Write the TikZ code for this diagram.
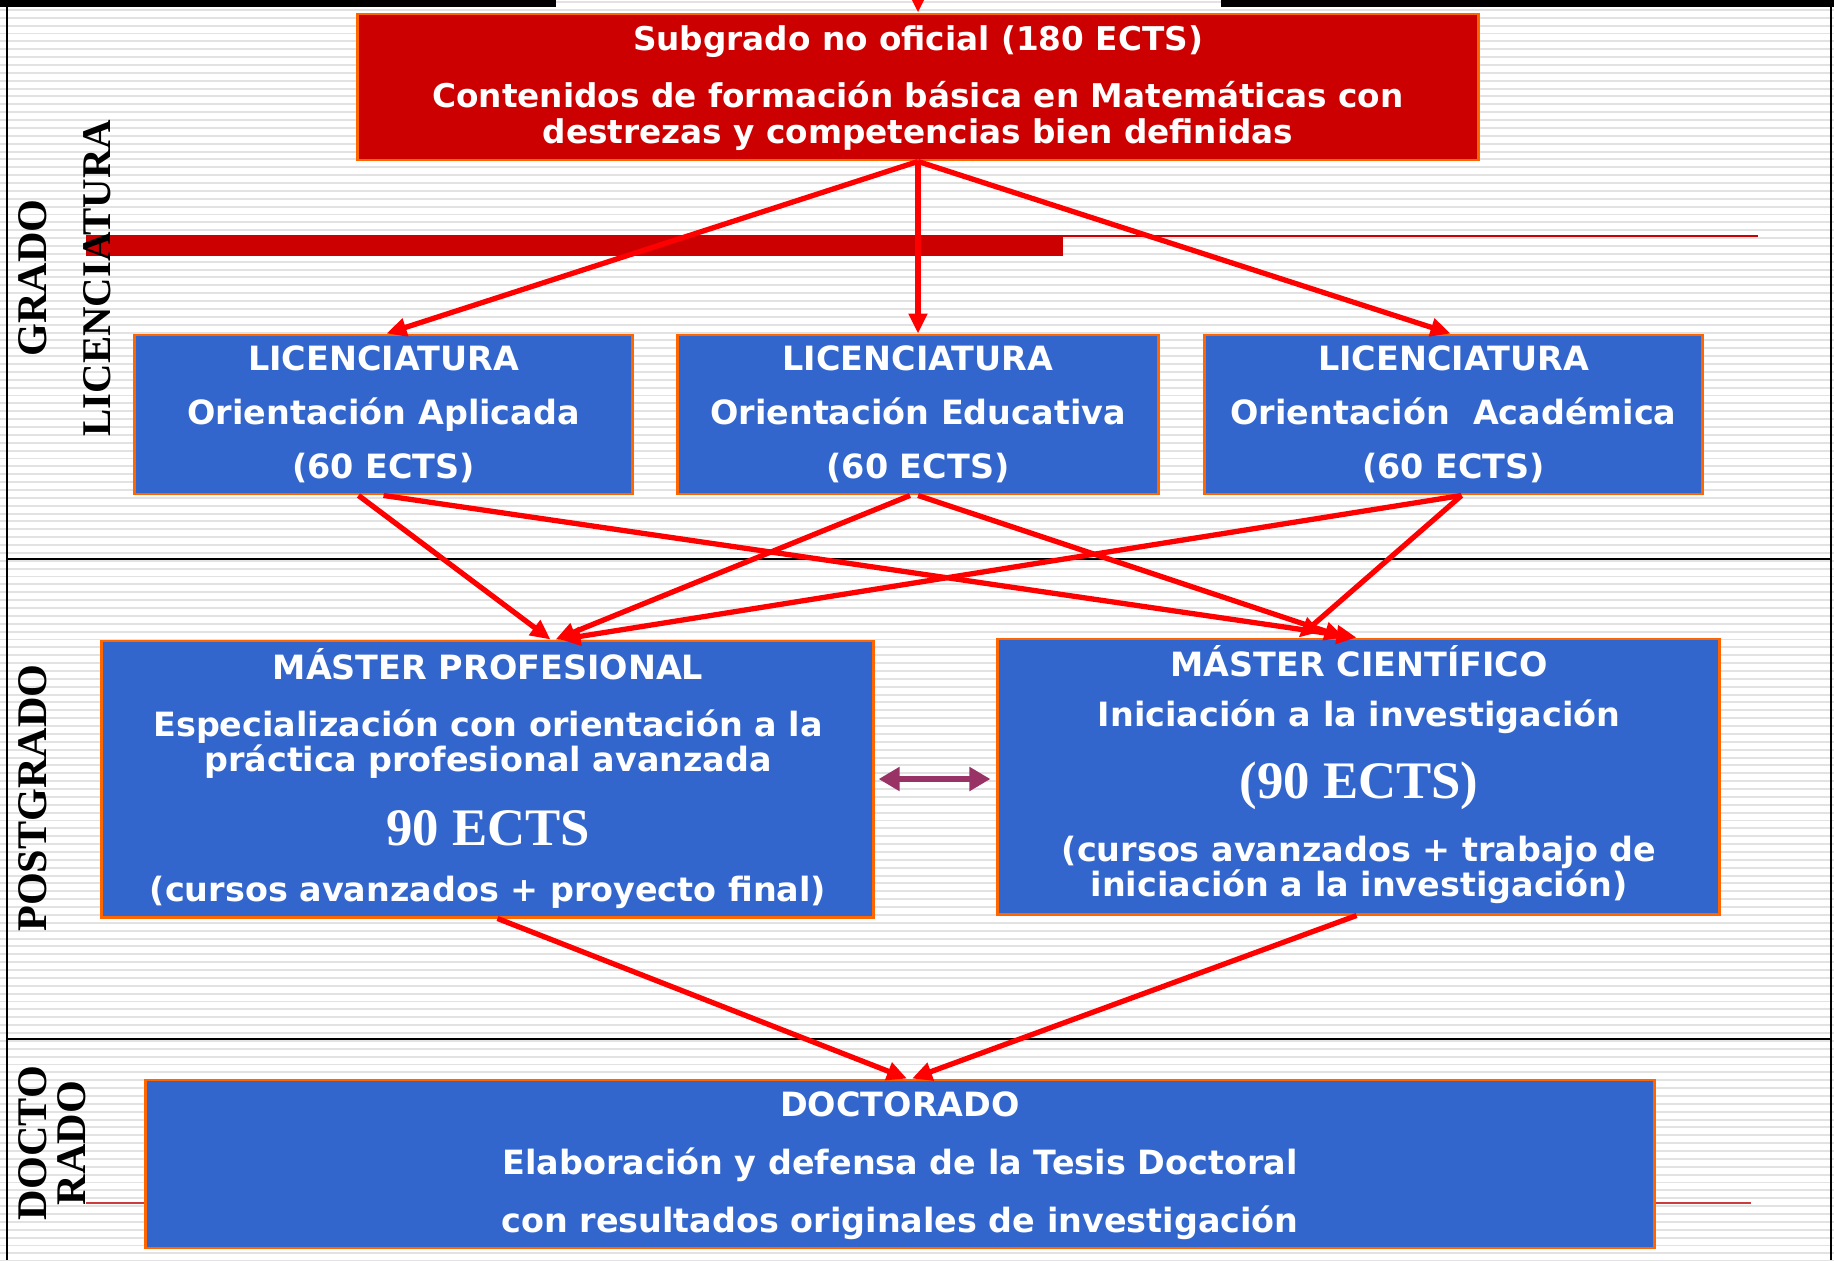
\documentclass[tikz,border=0pt]{standalone}
\usepackage{fontspec}
\setmainfont{DejaVu Sans}
\newfontfamily\lblserif{Liberation Serif}
\usetikzlibrary{arrows.meta}
\usetikzlibrary{calc}

\begin{document}
\begin{tikzpicture}[x=0.01cm, y=-0.01cm,
    stripe/.style={draw={rgb,255:red,226;green,226;blue,226}, line width=0.55pt},
    frameline/.style={draw={rgb,255:red,0;green,0;blue,0}, line width=0.8pt},
    lvlbox/.style={rectangle, draw={rgb,255:red,255;green,102;blue,0}, fill={rgb,255:red,51;green,102;blue,204}, line width=0.8pt, inner sep=0pt},
    boxtxt/.style={text={rgb,255:red,255;green,255;blue,255}, font=\bfseries\fontsize{9.5}{#1}\selectfont, align=center, inner sep=0pt},
    boxtxt/.default=11pt,
    bigects/.style={text={rgb,255:red,255;green,255;blue,255}, font=\lblserif\bfseries\fontsize{15}{18}\selectfont, inner sep=0pt},
    sidelbl/.style={rotate=90, text={rgb,255:red,0;green,0;blue,0}, font=\lblserif\bfseries\fontsize{#1}{11}\selectfont, align=center, inner sep=0pt},
    sidelbl/.default=12,
    redarrow/.style={draw={rgb,255:red,255;green,0;blue,0}, line width=1.5pt, -{Triangle[length=0.2cm, width=0.18cm]}},
    linkarrow/.style={draw={rgb,255:red,153;green,51;blue,102}, line width=1.8pt, {Triangle[length=0.21cm, width=0.23cm]}-{Triangle[length=0.21cm, width=0.23cm]}}
]
    \useasboundingbox (0,0) rectangle (1834,1260);

    % background
    \fill[white] (0,0) rectangle (1834,1260);
    \foreach \i in {0,...,160}
        \draw[stripe] (0,2+\i*7.87) -- (1834,2+\i*7.87);
    \fill[black] (0,0) rectangle (556,7);
    \fill[black] (1221,0) rectangle (1834,7);
    \draw[frameline] (7,7) -- (7,1260);
    \draw[frameline] (1831,7) -- (1831,1260);
    \draw[frameline] (7,559) -- (1831,559);
    \draw[frameline] (7,1039) -- (1831,1039);

    \fill[fill={rgb,255:red,204;green,0;blue,0}] (86,235) rectangle (1063,256);
    \draw[draw={rgb,255:red,204;green,0;blue,0}, line width=0.6pt] (1063,236) -- (1758,236);
    \draw[draw={rgb,255:red,204;green,60;blue,60}, line width=0.6pt] (86,1203) -- (147,1203);
    \draw[draw={rgb,255:red,204;green,60;blue,60}, line width=0.6pt] (1654,1203) -- (1751,1203);

    % side labels
    \node[sidelbl] (lblGrado) at (33,278) {GRADO};
    \node[sidelbl=11.6] (lblLic) at (97,278) {LICENCIATURA};
    \node[sidelbl] (lblPost) at (33,798) {POSTGRADO};
    \node[sidelbl] (lblDoc) at (52,1143) {DOCTO\\RADO};

    % boxes
    \node[lvlbox, fill={rgb,255:red,204;green,0;blue,0}, minimum width=11.2cm, minimum height=1.46cm] (ndSub) at (918,87) {};
    \node[lvlbox, minimum width=4.97cm, minimum height=1.59cm] (ndLicApl) at (383.5,414.5) {};
    \node[lvlbox, minimum width=4.8cm, minimum height=1.59cm] (ndLicEdu) at (918,414.5) {};
    \node[lvlbox, minimum width=4.97cm, minimum height=1.59cm] (ndLicAca) at (1453.5,414.5) {};
    \node[lvlbox, minimum width=7.71cm, minimum height=2.76cm] (ndMProf) at (487.5,779) {};
    \node[lvlbox, minimum width=7.21cm, minimum height=2.75cm] (ndMCient) at (1358.5,776.5) {};
    \node[lvlbox, minimum width=15.08cm, minimum height=1.68cm] (ndDoc) at (900,1164) {};

    % texts
    \node[boxtxt, font=\bfseries\fontsize{9.3}{10}\selectfont] (txtSubA) at (918,42) {Subgrado no oficial (180 ECTS)};
    \node[boxtxt, font=\bfseries\fontsize{9.3}{10}\selectfont] (txtSubB) at (918,116) {Contenidos de formación básica en Matemáticas con\\destrezas y competencias bien definidas};
    \node[boxtxt=15.3pt] (txtLicApl) at (383.5,414) {LICENCIATURA\\Orientación Aplicada\\(60 ECTS)};
    \node[boxtxt=15.3pt] (txtLicEdu) at (918,414) {LICENCIATURA\\Orientación Educativa\\(60 ECTS)};
    \node[boxtxt=15.3pt] (txtLicAca) at (1453.5,414) {LICENCIATURA\\Orientación\ \ Académica\\(60 ECTS)};

    \node[boxtxt] (txtProfA) at (488,664) {MÁSTER PROFESIONAL};
    \node[boxtxt=10pt] (txtProfB) at (488,744) {Especialización con orientación a la\\práctica profesional avanzada};
    \node[bigects] (txtProfC) at (488,828) {90 ECTS};
    \node[boxtxt] (txtProfD) at (488,892) {(cursos avanzados + proyecto final)};

    \node[boxtxt] (txtCientA) at (1359,661) {MÁSTER CIENTÍFICO};
    \node[boxtxt] (txtCientB) at (1359,717) {Iniciación a la investigación};
    \node[bigects] (txtCientC) at (1359,786) {(90 ECTS)};
    \node[boxtxt=10pt] (txtCientD) at (1359,870) {(cursos avanzados + trabajo de\\iniciación a la investigación)};

    \node[boxtxt=16.5pt] (txtDoc) at (900,1166) {DOCTORADO\\Elaboración y defensa de la Tesis Doctoral\\con resultados originales de investigación};

    % arrows
    \coordinate (ndTopIn) at (918,-8);
    \draw[redarrow] (ndTopIn) -- (ndSub.north);
    \draw[redarrow] (ndSub.south) -- ($(ndLicApl.north)+(3,0)$);
    \draw[redarrow] (ndSub.south) -- (ndLicEdu.north);
    \draw[redarrow] (ndSub.south) -- ($(ndLicAca.north)+(-3,0)$);

    \draw[redarrow] ($(ndLicApl.south)+(-25,0)$) -- ($(ndMProf.north)+(63,0)$);
    \draw[redarrow] (ndLicApl.south) -- ($(ndMCient.north)+(-2,0)$);
    \draw[redarrow] ($(ndLicEdu.south)+(-8,0)$) -- ($(ndMProf.north)+(68,0)$);
    \draw[redarrow] (ndLicEdu.south) -- ($(ndMCient.north)+(-14,0)$);
    \draw[redarrow] ($(ndLicAca.south)+(8,0)$) -- ($(ndMProf.north)+(73,0)$);
    \draw[redarrow] ($(ndLicAca.south)+(8,0)$) -- ($(ndMCient.north)+(-60,0)$);

    \draw[redarrow] ($(ndMProf.south)+(10,0)$) -- ($(ndDoc.north)+(7,0)$);
    \draw[redarrow] ($(ndMCient.south)+(-2,0)$) -- ($(ndDoc.north)+(12,0)$);

    \draw[linkarrow] ($(ndMProf.east)+(4,0)$) -- ($(ndMProf.east -| ndMCient.west)+(-6,0)$);
\end{tikzpicture}
\end{document}
